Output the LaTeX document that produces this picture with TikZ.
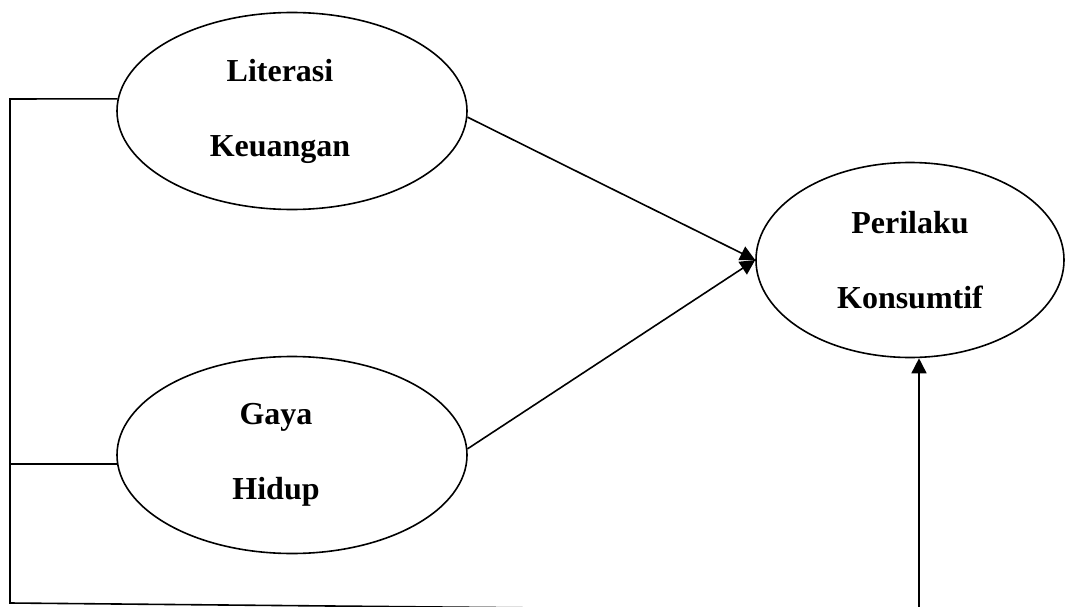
\documentclass[tikz,border=0pt]{standalone}
\usepackage{fontspec}
\setmainfont{Liberation Serif}
\usetikzlibrary{shapes.geometric, arrows.meta}

\begin{document}
\begin{tikzpicture}[x=1pt, y=-1pt, >={Triangle[length=15pt, width=15pt]},
  latent/.style={ellipse, draw=black, line width=1.6pt, inner sep=0pt},
  judul/.style={align=center, font=\fontsize{32}{75}\selectfont\bfseries},
  link/.style={line width=1.6pt}]
\useasboundingbox (0,0) rectangle (1065,607);
\clip (0,0) rectangle (1065,607);
% konstruk
\node[latent, minimum width=350pt, minimum height=197pt] (lit) at (292,111) {};
\node[latent, minimum width=350pt, minimum height=197pt] (gaya) at (292,455) {};
\node[latent, minimum width=308pt, minimum height=195pt] (per) at (910,260) {};
\node[judul] (litT) at ([xshift=-12pt]lit.center) {Literasi\\Keuangan};
\node[judul] (gayaT) at ([xshift=-16pt]gaya.center) {Gaya\\Hidup};
\node[judul] (perT) at (per.center) {Perilaku\\Konsumtif};
% garis kiri dan bawah
\coordinate (tl) at (10,99);
\coordinate (bl) at (10,603);
\coordinate (br) at (919,611.5);
\draw[link] (lit.176) -- (tl) -- (bl) -- (br);
\draw[link] (gaya.183) -- (gaya.183 -| tl);
% panah
\draw[link, ->] (lit.-2) -- (per.west);
\draw[link, ->] (gaya.2) -- (per.west);
\draw[link, ->] (br) -- (br |- per.south);
\end{tikzpicture}
\end{document}
